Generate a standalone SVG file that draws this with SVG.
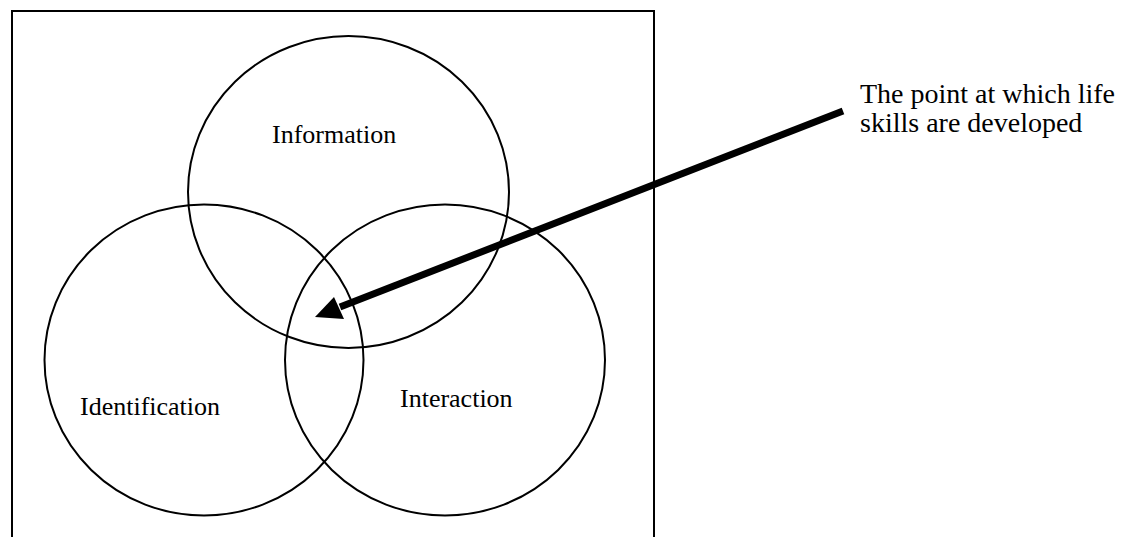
<svg xmlns="http://www.w3.org/2000/svg" width="1145" height="537" viewBox="0 0 1145 537">
  <style>
    .frame { fill: none; stroke: #000; stroke-width: 2; }
    .circ { fill: none; stroke: #000; stroke-width: 2; }
    .lbl { font-family: "Liberation Serif", "Times New Roman", serif; font-size: 26px; fill: #000; }
    .note { font-size: 28px; }
    .arrow-line { stroke: #000; stroke-width: 7; fill: none; }
  </style>
  <rect width="1145" height="537" fill="#fff"/>
  <path class="frame" d="M12,540 V11 H654 V540"/>
  <g id="node-information">
    <ellipse class="circ" cx="348.5" cy="192" rx="160.5" ry="156"/>
    <text class="lbl" x="272" y="143">Information</text>
  </g>
  <g id="node-identification">
    <ellipse class="circ" cx="204" cy="360" rx="159.5" ry="155.5"/>
    <text class="lbl" x="80" y="415">Identification</text>
  </g>
  <g id="node-interaction">
    <ellipse class="circ" cx="445" cy="360" rx="160" ry="155.5"/>
    <text class="lbl" x="400" y="407">Interaction</text>
  </g>
  <g id="node-label">
    <text class="lbl note" x="860" y="103">The point at which life</text>
    <text class="lbl note" x="860" y="132">skills are developed</text>
  </g>
  <g id="connectors">
    <line class="arrow-line" x1="843" y1="111" x2="340" y2="307"/>
    <polygon points="315,317 334,297 344,319" fill="#000"/>
  </g>
</svg>
